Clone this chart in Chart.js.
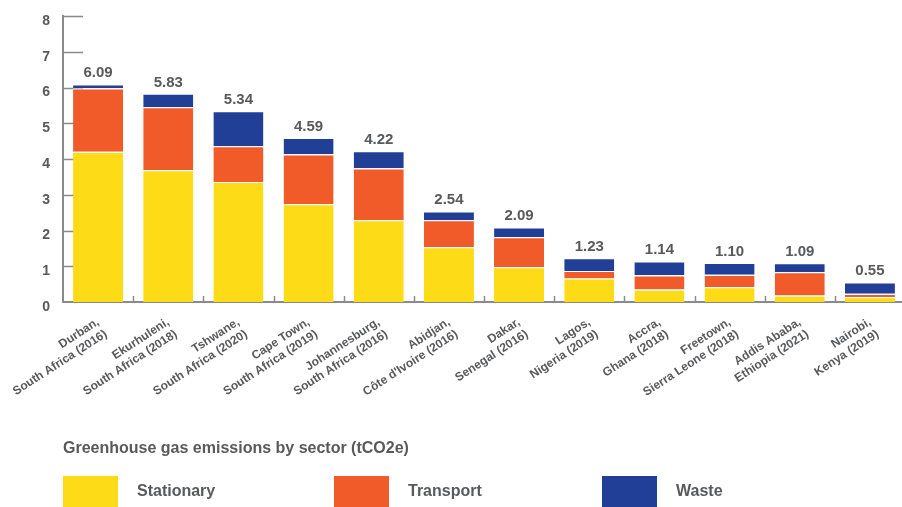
<!DOCTYPE html>
<html><head><meta charset="utf-8">
<script src="https://cdn.jsdelivr.net/npm/chart.js@4.4.1/dist/chart.umd.min.js"></script>
<style>html,body{margin:0;padding:0;background:#fff;overflow:hidden;width:902px;height:507px}canvas{display:block}</style>
</head><body>
<canvas id="c" width="905" height="507"></canvas>
<script>
const cities = [
  ["Durban,", "South Africa (2016)"],
  ["Ekurhuleni,", "South Africa (2018)"],
  ["Tshwane,", "South Africa (2020)"],
  ["Cape Town,", "South Africa (2019)"],
  ["Johannesburg,", "South Africa (2016)"],
  ["Abidjan,", "Côte d'Ivoire (2016)"],
  ["Dakar,", "Senegal (2016)"],
  ["Lagos,", "Nigeria (2019)"],
  ["Accra,", "Ghana (2018)"],
  ["Freetown,", "Sierra Leone (2018)"],
  ["Addis Ababa,", "Ethiopia (2021)"],
  ["Nairobi,", "Kenya (2019)"]
];
const stationary = [4.20, 3.69, 3.36, 2.74, 2.29, 1.54, 0.98, 0.66, 0.35, 0.42, 0.18, 0.14];
const transport  = [1.78, 1.76, 1.00, 1.39, 1.45, 0.75, 0.84, 0.21, 0.40, 0.34, 0.66, 0.09];
const waste      = [0.11, 0.38, 0.98, 0.46, 0.48, 0.25, 0.27, 0.36, 0.39, 0.34, 0.25, 0.32];
const totals     = ["6.09", "5.83", "5.34", "4.59", "4.22", "2.54", "2.09", "1.23", "1.14", "1.10", "1.09", "0.55"];
const yTicks = [0, 1, 2, 3, 4, 5, 6, 7, 8];
const seriesNames = ["Stationary", "Transport", "Waste"];
const seriesColors = ["#FEDB17", "#F15A29", "#223F98"];
const legendTitle = "Greenhouse gas emissions by sector (tCO2e)";

const TEXT = "#58595B";
const AXIS = "#8A8A8A";
const FONT = "'Liberation Sans', Arial, sans-serif";

const decorPlugin = {
  id: "decor",
  beforeDatasetsDraw(chart) {
    const ctx = chart.ctx, ca = chart.chartArea;
    const y = chart.scales.y;
    ctx.save();
    ctx.strokeStyle = AXIS;
    ctx.lineWidth = 1.5;
    yTicks.forEach(v => {
      if (v === 0) return;
      const py = Math.round(y.getPixelForValue(v)) + 0.5;
      ctx.beginPath(); ctx.moveTo(ca.left, py); ctx.lineTo(ca.left + 20, py); ctx.stroke();
    });
    const n = cities.length;
    const cw = (ca.right - ca.left) / n;
    for (let i = 1; i < n; i++) {
      const px = Math.round(ca.left + i * cw) + 0.5;
      ctx.beginPath(); ctx.moveTo(px, ca.bottom); ctx.lineTo(px, ca.bottom - 6); ctx.stroke();
    }
    ctx.restore();
  },
  afterDatasetsDraw(chart) {
    const ctx = chart.ctx;
    const meta = chart.getDatasetMeta(chart.data.datasets.length - 1);
    ctx.save();
    ctx.fillStyle = TEXT;
    ctx.font = "bold 15px " + FONT;
    ctx.textAlign = "center";
    ctx.textBaseline = "alphabetic";
    meta.data.forEach((bar, i) => {
      ctx.fillText(totals[i], bar.x, bar.y - 7);
    });
    ctx.restore();
  },
  afterDraw(chart) {
    const ctx = chart.ctx;
    ctx.save();
    ctx.fillStyle = TEXT;
    ctx.font = "bold 16px " + FONT;
    ctx.textBaseline = "middle";
    ctx.textAlign = "left";
    ctx.fillText(legendTitle, 63, 449);
    const boxX = [63, 334, 602];
    chart.data.datasets.forEach((ds, i) => {
      ctx.fillStyle = ds.backgroundColor;
      ctx.fillRect(boxX[i], 476, 55, 34);
      ctx.fillStyle = TEXT;
      ctx.fillText(ds.label, boxX[i] + 74, 492);
    });
    ctx.restore();
  }
};

new Chart(document.getElementById("c"), {
  type: "bar",
  data: {
    labels: cities,
    datasets: seriesNames.map((name, i) => ({
      label: name,
      data: [stationary, transport, waste][i],
      backgroundColor: seriesColors[i],
      borderColor: "#FFFFFF",
      borderWidth: {top: 1.2, left: 0, right: 0, bottom: 0},
      borderSkipped: false,
      categoryPercentage: 1,
      barPercentage: 0.713
    }))
  },
  options: {
    responsive: false,
    animation: false,
    devicePixelRatio: 1,
    layout: {padding: {top: 16, right: 0, bottom: 0, left: 0}},
    plugins: {legend: {display: false}, tooltip: {enabled: false}},
    scales: {
      x: {
        stacked: true,
        grid: {display: false, drawTicks: false},
        border: {display: true, color: AXIS, width: 2},
        ticks: {
          color: TEXT, font: {family: FONT, size: 12, weight: "bold"},
          maxRotation: 33, minRotation: 33, autoSkip: false, padding: 13
        },
        afterFit(scale) { scale.height = 205; scale.paddingLeft = 0; scale.paddingRight = 0; }
      },
      y: {
        stacked: true,
        min: 0, max: 8,
        afterBuildTicks(scale) { scale.ticks = yTicks.map(v => ({value: v})); },
        grid: {display: false, drawTicks: false},
        border: {display: true, color: AXIS, width: 2},
        ticks: {
          color: TEXT, font: {family: FONT, size: 14, weight: "bold"},
          padding: 13, labelOffset: 5
        },
        afterFit(scale) { scale.width = 63; scale.paddingTop = 0; scale.paddingBottom = 0; }
      }
    }
  },
  plugins: [decorPlugin]
});
</script>
</body></html>
